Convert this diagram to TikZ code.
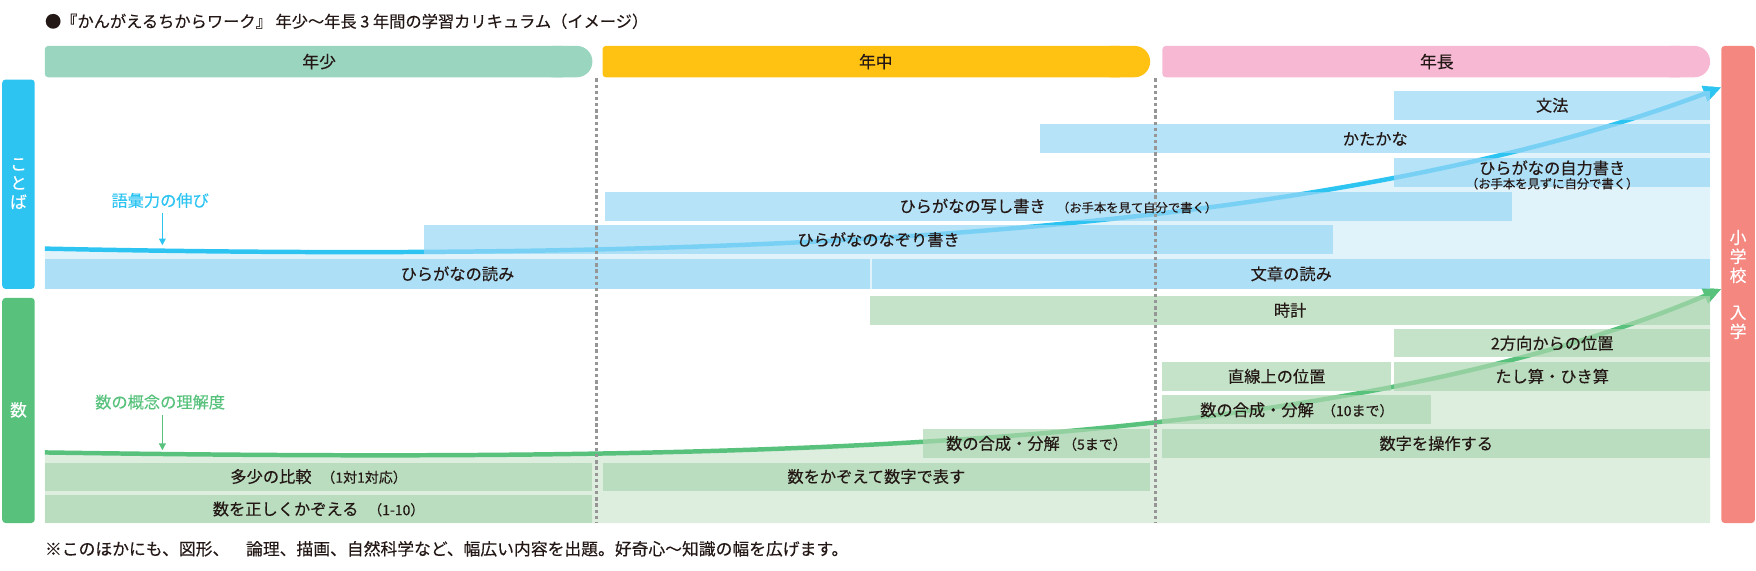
\documentclass[tikz,border=0pt]{standalone}
\usepackage{fontspec}
\setmainfont{Noto Sans CJK JP}[FakeBold=0.25]
\usetikzlibrary{arrows.meta}
\definecolor{cyanC}{RGB}{46,196,242}
\definecolor{greenC}{RGB}{88,194,125}
\definecolor{boxB}{RGB}{152,215,245}
\definecolor{boxG}{RGB}{171,215,176}
\definecolor{lightB}{RGB}{224,243,251}
\definecolor{lightG}{RGB}{221,238,223}
\definecolor{mintH}{RGB}{154,213,192}
\definecolor{amberH}{RGB}{255,193,18}
\definecolor{pinkH}{RGB}{246,184,210}
\definecolor{salmonC}{RGB}{244,135,128}
\definecolor{txt}{RGB}{35,24,21}
\definecolor{dotgray}{RGB}{150,150,150}
\newcommand\lblf{\fontsize{14.5}{16}\selectfont}
\newcommand\smlf{\fontsize{11}{12}\selectfont}
\newcommand\smnf{\fontsize{12.5}{14}\selectfont}
\newcommand\hdrf{\fontsize{15}{17}\selectfont}
\newcommand\vertf{\fontsize{15}{17}\selectfont}
\newcommand\ttlf{\fontsize{14.5}{16}\selectfont}
\newcommand\footf{\fontsize{15}{17}\selectfont}
\newcommand\rowbox[7]{%
  \pgfmathsetmacro\bw{#5-#3}\pgfmathsetmacro\bh{#6-#4}%
  \node[#2, minimum width=\bw pt, minimum height=\bh pt] (#1) at ({(#3+#5)/2},{(#4+#6)/2}) {#7};}
\tikzset{
  bxB/.style={fill=boxB, fill opacity=0.7, text opacity=1, inner sep=0pt, text=txt, font=\lblf},
  bxG/.style={fill=boxG, fill opacity=0.7, text opacity=1, inner sep=0pt, text=txt, font=\lblf},
  hdr/.style={text=txt, font=\hdrf, inner sep=0pt},
  vlab/.style={text=white, font=\vertf, align=center, inner sep=0pt},
  dotl/.style={draw=dotgray, line width=2.6pt, dash pattern=on 3pt off 2.5pt},
  growB/.style={draw=cyanC, line width=4pt, -{Triangle[length=16pt,width=14pt]}},
  growG/.style={draw=greenC, line width=4pt, -{Triangle[length=16pt,width=14pt]}},
  pointer/.style={line width=1.3pt, -{Triangle[length=6pt,width=6pt]}},
}
\begin{document}
\begin{tikzpicture}[x=1pt,y=-1pt]
\useasboundingbox (0,0) rectangle (1568,509);
% title
\node[anchor=west, inner sep=0pt, text=txt, font=\ttlf] (title) at (40,19) {●『かんがえるちからワーク』 年少〜年長 3 年間の学習カリキュラム（イメージ）};
% header bars
\fill[mintH, rounded corners=3pt] (40,41) rectangle (505,69);
\fill[mintH, rounded corners=14pt] (480,41) rectangle (529,69);
\fill[amberH, rounded corners=3pt] (538,41) rectangle (1003,69);
\fill[amberH, rounded corners=14pt] (978,41) rectangle (1027,69);
\fill[pinkH, rounded corners=3pt] (1038,41) rectangle (1503,69);
\fill[pinkH, rounded corners=14pt] (1478,41) rectangle (1527,69);
\node[hdr] (h1) at (285,55) {年少};
\node[hdr] (h2) at (782,55) {年中};
\node[hdr] (h3) at (1283,55) {年長};
% side bars
\fill[cyanC, rounded corners=3pt] (2,71) rectangle (31,258);
\fill[greenC, rounded corners=3pt] (2,266) rectangle (31,467);
\fill[salmonC, rounded corners=3pt] (1537,41) rectangle (1567,467);
\node[vlab] (kotoba) at (16.5,164) {こ\\と\\ば};
\node[vlab] (kazu) at (16.5,366) {数};
\node[vlab] (school) at (1552,254) {小\\学\\校\\[16pt]入\\学};
% curve coordinates
\coordinate (kS) at (40,222);
\coordinate (kE) at (1537,78);
\coordinate (sS) at (40,404);
\coordinate (sE) at (1537,258);
% light regions under curves
\begin{scope}
\clip (40,70) rectangle (1527,258);
\fill[lightB] (kS) .. controls (700,236) and (1200,205) .. (kE) -- (1537,258) -- (40,258) -- cycle;
\end{scope}
\begin{scope}
\clip (40,262) rectangle (1527,467);
\fill[lightG] (sS) .. controls (700,414) and (1200,400) .. (sE) -- (1537,467) -- (40,467) -- cycle;
\end{scope}
% growth curves
\draw[growB] (kS) .. controls (700,236) and (1200,205) .. (kE);
\draw[growG] (sS) .. controls (700,414) and (1200,400) .. (sE);
% kotoba boxes
\rowbox{bunpo}{bxB}{1245}{81}{1527}{107}{文法}
\rowbox{katakana}{bxB}{929}{111}{1527}{137}{かたかな}
\rowbox{jiriki}{bxB}{1245}{141}{1527}{167}{}
\rowbox{utsushi}{bxB}{540}{171}{1350}{197}{ひらがなの写し書き\hspace{0.7em}{\smlf（お手本を見て自分で書く）}}
\rowbox{nazori}{bxB}{379}{201}{1190}{227}{ひらがなのなぞり書き}
\rowbox{yomi}{bxB}{40}{231}{777}{258}{ひらがなの読み}
\rowbox{bunsho}{bxB}{779}{231}{1527}{258}{文章の読み}
\node[inner sep=0pt, text=txt, font=\lblf] (jirikiA) at (1386,150) {ひらがなの自力書き};
\node[inner sep=0pt, text=txt, font=\smlf] (jirikiB) at (1386,164) {（お手本を見ずに自分で書く）};
% kazu boxes
\rowbox{tokei}{bxG}{777}{264}{1527}{290}{時計}
\rowbox{houkou}{bxG}{1245}{294}{1527}{319}{2方向からの位置}
\rowbox{chokusen}{bxG}{1038}{323}{1242}{349}{直線上の位置}
\rowbox{tashi}{bxG}{1245}{323}{1527}{349}{たし算・ひき算}
\rowbox{gosei10}{bxG}{1038}{353}{1278}{379}{数の合成・分解\hspace{0.5em}{\smnf（10まで）}}
\rowbox{gosei5}{bxG}{824}{383}{1027}{409}{数の合成・分解\hspace{0.2em}{\smnf（5まで）}}
\rowbox{sousa}{bxG}{1038}{383}{1527}{409}{数字を操作する}
\rowbox{tashou}{bxG}{40}{413}{529}{438}{多少の比較\hspace{0.6em}{\smnf（1対1対応）}}
\rowbox{kazoe}{bxG}{538}{413}{1027}{438}{数をかぞえて数字で表す}
\rowbox{tadashiku}{bxG}{40}{442}{529}{467}{数を正しくかぞえる\hspace{0.6em}{\smnf（1-10）}}
% arrowheads on top
\begin{scope}
\clip (1527,0) rectangle (1568,509);
\draw[growB] (kS) .. controls (700,236) and (1200,205) .. (kE);
\draw[growG] (sS) .. controls (700,414) and (1200,400) .. (sE);
\end{scope}
% dotted year separators
\coordinate (d1t) at (533,70); \coordinate (d1b) at (533,467);
\coordinate (d2t) at (1032,70); \coordinate (d2b) at (1032,467);
\draw[dotl] (d1t) -- (d1b);
\draw[dotl] (d2t) -- (d2b);
% labels with pointers
\node[inner sep=0pt, text=cyanC, font=\lblf] (goi) at (143,179) {語彙力の伸び};
\coordinate (goiP) at (145,219);
\draw[pointer, cyanC] (145,190) -- (goiP);
\node[inner sep=0pt, text=greenC, font=\lblf] (gainen) at (143,359) {数の概念の理解度};
\coordinate (gainenP) at (145,402);
\draw[pointer, greenC] (145,371) -- (gainenP);
% footer
\node[anchor=west, inner sep=0pt, text=txt, font=\footf] (foot) at (40,490) {※このほかにも、図形、　論理、描画、自然科学など、幅広い内容を出題。好奇心〜知識の幅を広げます。};
\end{tikzpicture}
\end{document}
